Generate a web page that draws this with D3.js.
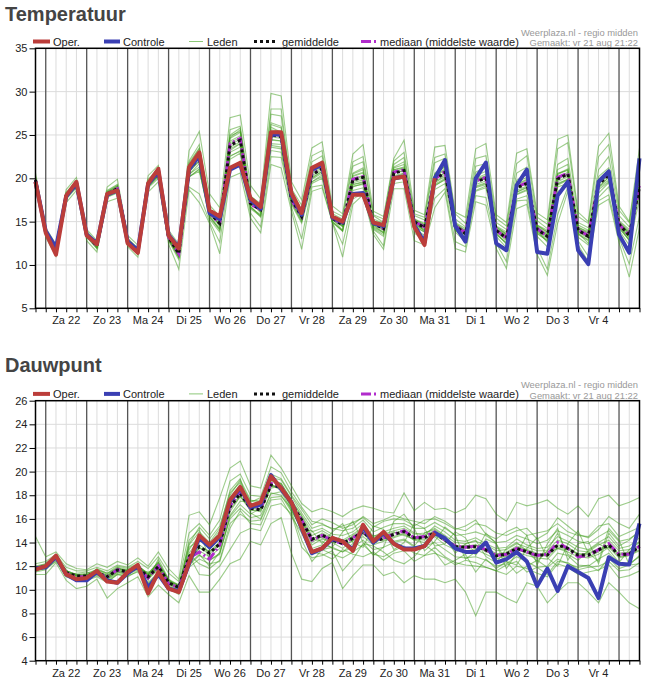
<!DOCTYPE html>
<html>
<head>
<meta charset="utf-8">
<script src="https://cdn.jsdelivr.net/npm/d3@7"></script>
<style>
body { margin: 0; background: #fff; }
svg { display: block; }
text { font-family: "Liberation Sans", Arial, sans-serif; }
</style>
</head>
<body>
<svg id="chart" width="650" height="685"></svg>
<script>
// data: 6-hourly runs starting vr 21 aug 18:00 UTC

let dayLabels = ["Za 22", "Zo 23", "Ma 24", "Di 25", "Wo 26", "Do 27", "Vr 28",
    "Za 29", "Zo 30", "Ma 31", "Di 1", "Wo 2", "Do 3", "Vr 4"]

let tempTicks = [5, 10, 15, 20, 25, 30, 35]
let dewTicks = [4, 6, 8, 10, 12, 14, 16, 18, 20, 22, 24, 26]

// temperatuur

let tempOper = [19.6, 13.7, 11.2, 18.0, 19.6, 13.4, 12.4, 18.2, 18.6, 12.5, 11.4, 19.4, 21.1,
    13.4, 11.9, 21.3, 23.0, 16.3, 15.6, 21.2, 21.8, 17.7, 16.7, 25.3, 25.3, 18.3, 16.0, 21.2,
    21.8, 15.6, 15.0, 18.1, 18.1, 14.9, 14.6, 20.0, 20.2, 14.4, 12.3, 20.0]

let tempControl = [19.6, 13.9, 12.0, 17.9, 19.4, 13.5, 12.5, 18.1, 18.6, 12.7, 11.7, 19.3, 20.8,
    13.5, 12.0, 21.0, 22.6, 16.0, 15.3, 21.0, 21.6, 17.5, 16.5, 25.0, 25.1, 18.1, 15.8, 21.0,
    21.6, 15.5, 14.9, 18.2, 18.3, 14.8, 14.5, 20.0, 20.2, 14.6, 12.6, 20.0, 22.1, 14.5, 12.7,
    20.0, 21.8, 12.5, 11.7, 19.2, 21.0, 11.5, 11.3, 18.0, 19.6, 11.7, 10.1, 19.6, 20.8, 13.5,
    11.4, 22.3]

let tempMean = [19.8, 13.8, 11.8, 18.0, 19.3, 13.5, 12.2, 18.2, 18.8, 12.8, 11.6, 19.4, 20.6,
    13.2, 11.3, 21.0, 22.4, 16.0, 14.8, 23.8, 24.4, 17.1, 16.4, 25.0, 24.8, 17.6, 15.6, 20.4,
    21.1, 15.4, 14.6, 19.8, 20.1, 14.8, 14.2, 20.6, 20.9, 15.0, 14.3, 19.8, 20.7, 14.5, 13.6,
    19.6, 20.0, 14.0, 13.1, 18.9, 19.4, 14.1, 13.3, 19.9, 20.5, 14.0, 13.3, 19.3, 20.4, 14.7,
    13.4, 19.0]

let tempMedian = [19.8, 13.8, 11.8, 18.0, 19.3, 13.5, 12.2, 18.2, 18.8, 12.8, 11.6, 19.4, 20.7,
    13.2, 11.3, 21.1, 22.6, 16.0, 14.8, 24.0, 24.6, 17.0, 16.4, 25.2, 24.9, 17.5, 15.6, 20.5,
    21.2, 15.4, 14.7, 19.9, 20.2, 14.8, 14.2, 20.7, 21.0, 15.0, 14.4, 19.9, 20.8, 14.5, 13.7,
    19.7, 20.1, 14.0, 13.1, 19.0, 19.5, 14.2, 13.3, 20.1, 20.6, 14.0, 13.4, 19.4, 20.5, 14.7,
    13.4, 19.1]

let tempMembers = [
    [20.6, 14.3, 12.4, 18.7, 20.1, 14.1, 12.8, 19.0, 19.9, 13.4, 12.3, 20.3, 21.5, 14.0, 12.4, 23.2, 25.4,
        18.2, 16.6, 27.0, 27.3, 19.2, 17.6, 29.8, 29.5, 19.6, 17.5, 23.5, 24.2, 16.8, 15.9, 22.8, 23.9,
        16.2, 15.6, 22.3, 24.4, 16.3, 15.8, 23.6, 23.8, 16.1, 15.5, 23.4, 24.0, 15.8, 14.9, 22.9, 23.4,
        16.0, 15.2, 24.5, 25.0, 16.1, 15.0, 23.7, 25.2, 16.8, 15.0, 23.5],
    [19.1, 13.2, 11.0, 17.2, 18.6, 12.8, 11.5, 17.3, 17.7, 12.1, 10.9, 18.4, 19.6, 12.4, 9.5, 18.7, 17.2,
        14.8, 11.3, 20.1, 20.6, 15.4, 13.7, 21.6, 21.2, 16.2, 11.8, 18.5, 18.9, 14.9, 10.9, 17.0, 18.1,
        13.5, 11.8, 18.8, 18.8, 12.8, 12.3, 16.6, 18.4, 11.9, 11.5, 17.3, 16.9, 11.9, 9.6, 16.5, 17.0,
        11.2, 8.8, 14.8, 18.5, 12.3, 10.4, 16.9, 17.6, 12.6, 8.6, 14.3],
    [20.2, 14.1, 12.2, 18.4, 19.7, 13.9, 12.5, 18.6, 19.3, 13.1, 11.9, 19.9, 21.1, 13.6, 11.8, 22.0, 23.9,
        16.9, 15.6, 25.6, 26.0, 17.9, 17.1, 27.4, 27.2, 18.6, 16.4, 21.9, 22.6, 15.9, 15.3, 21.4, 21.9,
        15.7, 14.9, 21.6, 22.4, 15.7, 15.2, 21.8, 22.3, 15.3, 14.4, 21.4, 21.7, 14.9, 14.1, 20.6, 21.3,
        15.1, 14.2, 21.6, 22.3, 14.9, 14.3, 21.0, 22.5, 15.7, 14.4, 21.3],
    [19.5, 13.5, 11.4, 17.6, 18.9, 13.2, 11.9, 17.8, 18.3, 12.5, 11.2, 18.9, 20.0, 12.8, 10.6, 20.1, 21.1,
        15.3, 13.8, 22.2, 22.9, 16.5, 15.6, 23.2, 23.0, 17.0, 14.8, 19.4, 20.0, 15.0, 13.9, 18.6, 18.9,
        14.1, 13.3, 19.4, 19.6, 14.2, 13.4, 18.7, 19.4, 13.8, 12.7, 18.5, 18.9, 13.3, 12.0, 17.6, 18.0,
        13.3, 12.1, 18.5, 19.1, 13.2, 12.3, 17.8, 19.0, 14.0, 12.3, 17.6],
    [19.9, 13.9, 11.9, 18.2, 19.5, 13.6, 12.3, 18.4, 19.1, 12.9, 11.6, 19.6, 20.9, 13.3, 11.0, 21.8, 23.5,
        16.3, 14.4, 24.9, 25.4, 17.3, 16.0, 26.4, 26.0, 17.8, 15.3, 21.2, 22.0, 15.3, 14.0, 20.6, 21.2,
        14.6, 13.7, 21.3, 21.9, 14.9, 13.9, 20.4, 21.4, 14.2, 12.8, 20.7, 21.3, 13.7, 12.4, 19.8, 20.4,
        14.0, 12.6, 21.0, 21.6, 13.7, 12.5, 20.2, 21.2, 14.5, 12.8, 20.2],
    [19.7, 13.8, 11.9, 17.9, 19.2, 13.5, 12.3, 18.1, 18.6, 12.8, 11.7, 19.2, 20.4, 13.3, 11.9, 20.5, 21.3,
        16.2, 15.5, 22.6, 23.1, 17.3, 16.9, 23.8, 23.6, 17.5, 16.2, 19.6, 20.4, 15.6, 15.1, 19.0, 19.4,
        15.1, 14.7, 19.8, 20.1, 15.2, 14.7, 19.1, 19.9, 14.9, 14.2, 18.6, 19.1, 14.5, 13.8, 18.1, 18.6,
        14.6, 14.0, 19.0, 19.4, 14.6, 14.0, 18.3, 19.5, 15.1, 14.1, 18.2],
    [20.0, 13.6, 11.6, 18.1, 19.4, 13.4, 12.0, 18.5, 19.2, 12.6, 11.4, 19.5, 20.7, 13.0, 10.9, 21.5, 23.0,
        15.7, 14.2, 24.6, 25.3, 16.8, 15.5, 25.9, 25.3, 17.2, 15.5, 21.0, 21.7, 15.5, 14.5, 20.3, 20.7,
        14.4, 13.8, 21.0, 21.2, 15.3, 14.6, 20.6, 21.5, 14.8, 13.9, 19.9, 20.3, 14.4, 13.6, 19.2, 19.8,
        14.6, 13.8, 20.6, 20.9, 14.2, 13.7, 19.6, 20.8, 14.9, 13.7, 19.6],
    [19.6, 14.0, 12.0, 17.8, 19.0, 13.7, 12.6, 18.0, 18.5, 13.0, 11.8, 19.0, 20.3, 13.7, 11.6, 20.2, 20.8,
        15.9, 15.1, 23.2, 24.0, 17.6, 16.8, 24.5, 24.3, 17.9, 16.1, 20.0, 20.8, 15.2, 14.8, 19.3, 19.5,
        15.3, 14.8, 20.2, 20.3, 14.6, 14.1, 19.5, 20.2, 14.4, 13.7, 19.0, 19.4, 14.2, 13.5, 18.4, 19.0,
        14.4, 13.6, 19.3, 19.9, 14.3, 13.9, 19.0, 20.1, 14.8, 13.6, 18.6],
    [19.4, 13.7, 11.7, 18.3, 19.5, 13.3, 12.1, 18.3, 19.0, 12.9, 11.5, 19.7, 20.8, 13.1, 11.4, 19.0, 18.2,
        15.0, 12.6, 21.0, 21.7, 16.0, 14.4, 22.5, 22.4, 16.7, 13.0, 19.0, 19.2, 14.9, 12.4, 17.6, 18.3,
        13.9, 12.2, 20.0, 20.6, 13.7, 12.8, 17.7, 18.8, 12.7, 12.1, 18.0, 17.8, 12.5, 10.4, 17.4, 17.5,
        12.0, 9.5, 15.8, 19.0, 12.8, 11.0, 17.4, 18.1, 13.1, 10.1, 15.6],
    [19.9, 13.9, 11.9, 18.1, 19.3, 13.6, 12.2, 18.2, 18.9, 12.8, 11.6, 19.4, 20.6, 13.4, 11.5, 21.3, 22.9,
        16.5, 15.3, 25.0, 25.8, 18.0, 16.9, 28.0, 28.0, 18.8, 16.9, 22.6, 23.2, 16.2, 15.6, 21.9, 22.5,
        15.8, 15.3, 22.0, 23.0, 15.9, 15.5, 22.4, 22.8, 15.9, 14.8, 22.3, 22.6, 15.4, 14.5, 21.7, 22.6,
        15.5, 14.7, 23.4, 24.1, 15.6, 14.8, 22.5, 23.9, 16.3, 14.9, 22.4],
    [20.1, 13.9, 11.8, 17.7, 19.1, 13.5, 12.1, 17.9, 18.5, 12.7, 11.5, 19.1, 20.4, 12.9, 11.1, 20.8, 22.0,
        15.8, 14.7, 23.6, 24.2, 17.0, 16.6, 24.8, 24.6, 17.4, 15.9, 20.3, 21.0, 15.5, 14.7, 19.7, 20.0,
        14.9, 14.3, 20.7, 20.8, 14.8, 14.5, 20.0, 20.6, 14.5, 13.5, 19.6, 20.0, 14.0, 13.2, 19.0, 19.5,
        14.2, 13.4, 20.0, 20.5, 13.9, 13.3, 19.4, 20.6, 14.6, 13.2, 19.4],
    [19.8, 13.8, 11.8, 18.0, 19.3, 13.5, 12.4, 18.2, 18.8, 12.8, 11.7, 19.3, 20.5, 13.2, 11.3, 21.1, 22.6,
        16.1, 14.9, 24.1, 24.7, 17.2, 16.3, 25.3, 25.0, 17.6, 15.8, 20.7, 21.4, 15.4, 14.5, 20.0, 20.3,
        14.7, 14.2, 20.8, 21.1, 15.0, 14.3, 20.1, 21.0, 14.5, 13.7, 19.8, 20.2, 14.1, 13.2, 19.0, 19.6,
        14.2, 13.3, 20.0, 20.7, 14.0, 13.4, 19.4, 20.5, 14.8, 13.5, 19.2],
    [19.9, 13.7, 11.7, 18.1, 19.4, 13.4, 12.2, 18.3, 18.9, 12.7, 11.5, 19.5, 20.7, 13.1, 11.2, 21.2, 22.8,
        16.2, 14.6, 24.3, 24.9, 17.4, 16.1, 25.6, 25.4, 17.7, 15.4, 20.8, 21.5, 15.2, 14.4, 20.2, 20.6,
        14.6, 14.0, 21.0, 21.3, 14.8, 14.0, 20.2, 21.1, 14.3, 13.3, 20.0, 20.5, 13.8, 12.8, 19.3, 19.9,
        13.8, 13.0, 20.4, 21.0, 13.8, 13.1, 19.8, 20.9, 14.5, 13.1, 19.5],
    [19.7, 13.9, 11.9, 17.9, 19.2, 13.6, 12.3, 18.0, 18.7, 12.9, 11.7, 19.3, 20.5, 13.3, 11.5, 20.7, 22.0,
        16.1, 15.0, 23.4, 24.0, 17.0, 16.5, 24.4, 24.3, 17.5, 15.8, 20.1, 20.8, 15.5, 14.8, 19.5, 19.8,
        14.9, 14.4, 20.3, 20.6, 15.1, 14.5, 19.5, 20.4, 14.7, 13.8, 19.3, 19.7, 14.2, 13.4, 18.6, 19.1,
        14.3, 13.5, 19.6, 20.2, 14.2, 13.5, 19.0, 20.1, 14.9, 13.7, 18.8],
    [19.8, 13.6, 11.5, 18.2, 19.6, 13.3, 11.9, 18.4, 19.1, 12.6, 11.3, 19.6, 20.9, 12.9, 10.8, 21.6, 23.4,
        15.6, 14.0, 24.7, 25.6, 16.7, 15.7, 26.2, 25.8, 17.3, 15.1, 21.1, 21.9, 14.9, 13.9, 20.5, 21.0,
        14.2, 13.5, 21.2, 21.6, 14.6, 13.8, 20.5, 21.3, 14.0, 13.0, 20.3, 20.8, 13.6, 12.5, 19.6, 20.1,
        13.7, 12.8, 20.5, 21.1, 13.5, 12.8, 19.9, 21.0, 14.3, 12.9, 19.8],
    [20.0, 14.0, 12.1, 17.8, 19.1, 13.7, 12.4, 17.9, 18.6, 13.0, 11.9, 19.2, 20.3, 13.5, 11.7, 20.4, 21.7,
        16.4, 15.2, 23.0, 23.6, 17.5, 17.0, 24.0, 23.9, 17.8, 16.3, 19.9, 20.6, 15.7, 15.0, 19.3, 19.6,
        15.0, 14.6, 20.0, 20.4, 15.3, 14.8, 19.3, 20.0, 14.8, 14.0, 19.1, 19.5, 14.4, 13.6, 18.4, 18.9,
        14.5, 13.8, 19.4, 19.9, 14.4, 13.7, 18.9, 19.8, 15.0, 13.9, 18.5],
    [19.6, 13.8, 11.7, 18.0, 19.3, 13.4, 12.1, 18.2, 18.8, 12.8, 11.5, 19.4, 20.6, 13.2, 11.2, 21.0, 22.4,
        15.9, 14.6, 23.9, 24.5, 17.1, 16.2, 25.1, 24.8, 17.6, 15.5, 20.5, 21.2, 15.3, 14.5, 19.9, 20.2,
        14.7, 14.1, 20.6, 20.9, 14.9, 14.2, 19.8, 20.7, 14.4, 13.5, 19.6, 20.0, 13.9, 13.0, 18.9, 19.4,
        14.0, 13.2, 19.9, 20.5, 13.9, 13.2, 19.3, 20.3, 14.6, 13.3, 19.0],
    [19.5, 13.6, 11.6, 17.8, 19.0, 13.3, 12.0, 17.9, 18.4, 12.6, 11.4, 19.0, 20.2, 13.0, 11.0, 20.2, 21.0,
        15.5, 14.1, 22.5, 23.2, 16.6, 15.8, 23.6, 23.4, 17.2, 15.0, 19.6, 20.2, 15.0, 14.0, 19.1, 19.3,
        14.3, 13.7, 19.8, 20.0, 14.4, 13.8, 19.2, 19.8, 14.0, 13.0, 18.9, 19.3, 13.5, 12.6, 18.2, 18.7,
        13.6, 12.8, 19.2, 19.8, 13.6, 12.9, 18.7, 19.6, 14.2, 12.9, 18.3]
]

// dauwpunt

let dewOper = [11.7, 12.0, 12.9, 11.3, 10.9, 11.0, 11.6, 10.7, 10.6, 11.5, 12.1, 9.7, 11.5,
    10.1, 9.8, 12.3, 14.6, 13.8, 14.6, 17.6, 18.7, 17.1, 17.4, 19.6, 18.6, 17.4, 15.3, 13.2,
    13.5, 14.4, 14.1, 13.3, 15.5, 14.1, 14.9, 13.9, 13.4, 13.4, 13.7, 14.8]

let dewControl = [11.8, 11.9, 12.8, 11.3, 10.8, 10.8, 11.5, 10.8, 10.6, 11.4, 12.0, 10.2, 11.3,
    10.1, 9.9, 12.2, 14.4, 13.6, 14.5, 17.5, 18.6, 17.0, 17.2, 19.7, 18.5, 17.4, 15.2, 13.1,
    13.5, 14.3, 14.1, 13.4, 15.3, 14.0, 14.8, 13.9, 13.5, 13.5, 13.7, 14.8, 14.35, 13.5, 13.2,
    13.2, 14.0, 12.3, 12.6, 13.2, 12.4, 10.3, 11.8, 9.9, 12.0, 11.5, 11.0, 9.3, 12.75, 12.2,
    12.15, 15.6]

let dewMean = [11.8, 12.0, 12.75, 11.45, 11.17, 11.17, 11.45, 11.1, 11.67, 11.53, 11.9, 11.1,
    11.96, 10.6, 10.2, 12.8, 13.65, 13.1, 13.9, 17.0, 18.16, 16.9, 16.75, 18.87, 18.67, 17.3,
    15.9, 14.27, 14.63, 14.2, 13.93, 14.35, 14.92, 14.07, 14.35, 14.69, 14.92, 14.41, 14.41,
    14.83, 14.2, 13.65, 13.59, 13.65, 13.37, 12.86, 13.03, 13.5, 13.22, 12.94, 12.94, 13.79,
    13.5, 12.94, 12.94, 13.37, 13.79, 12.94, 13.03, 13.65]

let dewMedian = [11.8, 12.0, 12.7, 11.4, 11.1, 11.1, 11.4, 11.1, 11.7, 11.5, 11.9, 11.0, 12.0,
    10.5, 10.2, 12.7, 13.2, 12.6, 13.8, 17.1, 18.3, 16.9, 16.9, 19.0, 18.7, 17.3, 15.9, 14.2,
    14.6, 14.2, 13.9, 14.4, 14.9, 14.1, 14.4, 14.7, 15.0, 14.4, 14.5, 14.9, 14.2, 13.7, 13.6,
    13.7, 13.4, 12.9, 13.0, 13.5, 13.2, 12.9, 13.0, 14.0, 13.5, 12.8, 12.9, 13.4, 13.9, 13.0,
    13.0, 13.7]

let dewMembers = [
    [14.5, 12.8, 13.2, 12.2, 11.8, 11.7, 12.2, 11.9, 12.4, 12.1, 12.7, 12.0, 13.2, 11.8, 10.9, 16.3, 16.6,
        15.5, 17.8, 20.3, 20.9, 18.8, 18.6, 21.4, 20.3, 18.8, 17.3, 16.6, 16.9, 16.6, 16.2, 16.8, 17.1,
        16.9, 16.6, 16.5, 18.2, 16.7, 17.4, 16.8, 16.9, 16.5, 16.9, 18.0, 17.7, 16.4, 15.8, 17.4, 17.1,
        17.3, 17.6, 16.9, 16.4, 17.1, 16.2, 17.7, 18.0, 17.1, 17.4, 17.8],
    [11.3, 11.3, 12.3, 10.8, 10.1, 10.3, 10.9, 9.3, 10.1, 10.6, 11.1, 9.4, 10.4, 9.6, 8.9, 11.2, 9.8,
        9.8, 10.9, 12.2, 12.6, 14.1, 13.8, 15.6, 16.1, 13.1, 10.9, 10.7, 11.8, 12.3, 10.1, 11.2, 12.1,
        12.1, 11.2, 11.5, 10.6, 11.2, 10.9, 10.9, 10.6, 10.9, 9.8, 7.8, 9.8, 9.8, 9.3, 8.9, 10.6,
        10.3, 8.9, 9.8, 10.6, 10.6, 9.8, 8.9, 10.6, 9.8, 8.9, 8.4],
    [12.2, 12.4, 13.0, 11.9, 11.6, 11.6, 11.9, 11.6, 12.1, 11.9, 12.4, 11.8, 12.8, 11.4, 10.7, 14.8, 15.6,
        14.6, 15.9, 19.2, 19.8, 18.0, 17.9, 20.4, 19.9, 18.3, 17.0, 15.8, 15.6, 15.1, 15.4, 15.7, 16.1,
        15.3, 15.8, 16.0, 15.9, 15.4, 15.9, 16.0, 15.6, 15.1, 15.4, 15.9, 14.7, 14.3, 14.9, 15.3, 14.6,
        14.8, 15.0, 15.6, 14.9, 14.6, 14.5, 15.4, 15.6, 14.5, 14.9, 15.3],
    [11.5, 11.7, 12.5, 11.1, 10.8, 10.8, 11.1, 10.6, 11.3, 11.2, 11.5, 10.5, 11.4, 10.1, 9.6, 11.9, 12.6,
        12.2, 12.4, 15.2, 16.7, 15.6, 15.5, 17.6, 17.7, 16.2, 14.8, 13.0, 13.4, 13.0, 12.7, 13.2, 13.8,
        13.0, 12.8, 13.3, 13.7, 13.1, 12.9, 13.6, 12.8, 12.3, 12.1, 12.0, 11.9, 11.6, 11.3, 12.0, 11.8,
        11.4, 11.1, 12.2, 11.9, 11.3, 11.5, 11.7, 12.1, 11.0, 11.2, 11.6],
    [11.9, 12.1, 12.8, 11.6, 11.3, 11.2, 11.6, 11.2, 11.8, 11.6, 12.0, 11.3, 12.2, 10.8, 10.3, 13.1, 14.3,
        13.6, 14.6, 17.8, 18.9, 17.3, 17.2, 19.3, 19.0, 17.6, 16.3, 14.9, 15.2, 14.7, 14.6, 14.9, 15.6,
        14.5, 14.9, 15.2, 15.4, 14.8, 14.6, 15.4, 14.9, 14.2, 14.1, 14.4, 13.9, 13.5, 13.6, 14.3, 13.8,
        13.5, 13.6, 14.5, 14.1, 13.6, 13.4, 14.0, 14.5, 13.5, 13.7, 14.4],
    [11.8, 11.9, 12.7, 11.4, 11.1, 11.3, 11.4, 11.0, 11.6, 11.5, 11.8, 11.0, 11.8, 10.5, 10.1, 12.6, 13.3,
        12.8, 13.5, 16.6, 17.9, 16.8, 16.6, 18.6, 18.8, 17.1, 15.6, 13.8, 14.3, 14.0, 13.5, 14.2, 14.5,
        13.8, 14.1, 14.4, 14.7, 14.2, 14.0, 14.5, 13.8, 13.4, 13.3, 13.4, 13.0, 12.6, 12.9, 13.2, 12.9,
        12.7, 12.6, 13.5, 13.2, 12.8, 12.7, 13.0, 13.6, 12.7, 12.9, 13.3],
    [12.0, 12.2, 12.9, 11.7, 10.9, 11.0, 11.8, 11.4, 12.0, 11.8, 12.2, 10.8, 12.6, 10.9, 10.0, 13.8, 14.9,
        14.0, 15.2, 18.4, 19.4, 16.5, 16.0, 18.2, 18.0, 16.6, 14.2, 12.4, 13.4, 13.6, 14.9, 15.8, 14.0,
        12.9, 13.6, 15.8, 16.4, 15.2, 13.3, 14.1, 15.3, 14.6, 12.6, 13.2, 14.8, 13.9, 12.4, 12.1, 13.5,
        14.4, 12.7, 12.0, 13.9, 15.0, 13.1, 12.4, 15.2, 14.2, 12.1, 12.9],
    [11.6, 12.0, 12.6, 11.3, 11.4, 11.5, 11.3, 10.9, 11.5, 11.3, 11.7, 11.5, 11.7, 10.3, 9.8, 12.1, 12.9,
        12.5, 13.1, 16.2, 17.2, 16.4, 16.9, 18.9, 18.4, 17.0, 15.9, 14.3, 14.1, 13.5, 13.2, 13.9, 14.7,
        14.6, 14.5, 14.1, 14.3, 13.7, 14.8, 15.1, 14.5, 13.1, 13.9, 14.2, 12.8, 12.3, 13.5, 14.0, 13.3,
        12.4, 13.3, 14.8, 13.0, 12.5, 13.3, 13.9, 13.4, 12.3, 13.4, 14.1],
    [11.7, 11.8, 12.4, 11.5, 11.2, 11.1, 11.5, 11.1, 11.7, 11.7, 12.1, 11.2, 12.1, 10.7, 10.4, 12.9, 11.3,
        11.2, 12.0, 13.4, 14.8, 15.2, 15.0, 17.1, 17.3, 16.4, 13.6, 12.7, 12.9, 13.3, 11.6, 12.6, 13.9,
        13.7, 13.2, 12.5, 12.2, 12.8, 13.8, 13.2, 12.1, 12.5, 13.0, 11.5, 12.6, 11.8, 12.4, 11.4, 12.0,
        12.5, 11.9, 12.6, 12.2, 11.9, 12.1, 11.6, 12.7, 11.8, 12.1, 12.2],
    [11.9, 12.1, 12.8, 11.5, 11.2, 11.3, 11.5, 11.2, 11.8, 11.6, 12.0, 11.2, 12.1, 10.7, 10.3, 13.4, 14.6,
        13.8, 15.0, 18.0, 19.3, 17.6, 17.4, 19.8, 19.4, 18.0, 16.8, 15.5, 16.0, 15.7, 15.2, 15.5, 16.2,
        15.6, 15.9, 16.3, 16.0, 15.8, 15.6, 16.2, 15.8, 15.2, 15.0, 15.6, 15.4, 14.8, 14.6, 15.0, 15.2,
        14.3, 14.8, 16.1, 15.4, 14.7, 14.4, 15.1, 16.2, 15.6, 15.2, 16.4],
    [11.7, 12.0, 12.7, 11.4, 11.0, 11.1, 11.4, 10.9, 11.5, 11.4, 11.9, 11.0, 11.9, 10.5, 10.0, 12.4, 13.6,
        13.0, 14.0, 17.0, 18.0, 16.9, 16.9, 18.8, 18.7, 17.3, 15.8, 14.0, 14.5, 14.2, 13.9, 14.1, 14.8,
        14.0, 14.3, 14.8, 15.0, 14.4, 14.3, 14.8, 14.3, 13.6, 13.7, 13.8, 13.4, 12.9, 13.1, 13.6, 13.3,
        13.0, 13.0, 13.8, 13.6, 12.9, 13.0, 13.4, 13.8, 13.0, 13.1, 13.7],
    [11.6, 11.8, 12.6, 11.2, 10.9, 10.9, 11.2, 10.7, 11.3, 11.1, 11.6, 10.6, 11.5, 10.2, 9.7, 12.2, 13.0,
        12.0, 13.2, 16.0, 16.9, 16.1, 16.3, 18.1, 18.3, 16.7, 15.2, 13.5, 13.8, 13.6, 13.2, 13.6, 14.2,
        13.4, 13.6, 14.0, 14.2, 13.6, 13.7, 14.0, 13.4, 12.8, 12.7, 12.8, 12.5, 12.0, 12.2, 12.8, 12.4,
        11.9, 12.0, 13.1, 12.9, 12.1, 12.0, 12.6, 13.1, 12.2, 12.2, 12.8],
    [11.9, 12.1, 12.9, 11.6, 11.3, 11.4, 11.7, 11.3, 11.9, 11.7, 12.0, 11.4, 12.3, 10.9, 10.4, 13.6, 14.2,
        13.5, 14.4, 17.4, 18.5, 17.2, 17.0, 19.2, 19.0, 17.6, 16.2, 14.6, 15.0, 14.5, 14.2, 14.7, 15.3,
        14.4, 14.7, 15.0, 15.2, 14.7, 14.8, 15.2, 14.6, 14.0, 13.9, 14.1, 13.8, 13.3, 13.4, 13.9, 13.6,
        13.3, 13.3, 14.2, 13.9, 13.3, 13.2, 13.8, 14.2, 13.3, 13.4, 14.0],
    [11.7, 11.9, 12.7, 11.5, 11.2, 11.1, 11.5, 11.1, 11.6, 11.5, 11.9, 11.1, 11.9, 10.6, 10.2, 12.8, 13.8,
        13.2, 14.1, 17.2, 18.4, 17.0, 16.7, 18.9, 18.6, 17.2, 15.8, 14.2, 14.8, 14.4, 13.8, 14.6, 15.1,
        14.2, 14.2, 14.5, 14.8, 14.2, 14.6, 15.0, 14.4, 13.8, 13.5, 13.8, 13.2, 13.0, 13.2, 13.7, 13.4,
        13.1, 12.8, 13.6, 13.6, 13.0, 13.1, 13.5, 13.6, 13.1, 13.2, 13.8],
    [11.6, 12.1, 12.8, 11.3, 11.0, 11.2, 11.6, 10.9, 11.9, 11.5, 11.8, 11.3, 12.3, 10.6, 10.1, 14.2, 15.1,
        12.5, 13.0, 16.3, 17.5, 17.4, 17.8, 19.6, 18.9, 16.8, 15.1, 15.0, 13.9, 14.9, 15.6, 14.0, 13.6,
        15.4, 15.1, 13.4, 14.0, 15.6, 15.2, 13.7, 13.9, 14.9, 14.4, 12.9, 14.3, 13.9, 11.8, 13.1, 14.6,
        12.1, 13.9, 15.2, 12.5, 13.9, 14.1, 12.2, 14.8, 13.7, 14.2, 15.0],
    [11.9, 12.0, 12.8, 11.4, 11.2, 11.2, 11.5, 11.2, 11.7, 11.6, 11.9, 11.1, 12.0, 10.6, 10.2, 12.6, 13.5,
        13.3, 13.7, 16.8, 17.9, 16.7, 16.8, 18.7, 18.8, 17.4, 16.0, 14.4, 14.4, 14.0, 14.1, 14.5, 14.8,
        13.9, 14.5, 14.9, 14.6, 14.3, 14.2, 14.6, 14.1, 13.5, 13.8, 13.5, 13.5, 13.1, 12.8, 13.4, 13.1,
        12.8, 13.2, 13.5, 13.4, 13.1, 12.8, 13.2, 13.8, 12.8, 12.9, 13.4],
    [11.8, 11.9, 12.6, 11.4, 11.0, 11.0, 11.3, 10.8, 11.4, 11.4, 11.8, 10.9, 11.7, 10.4, 9.9, 13.0, 12.2,
        11.8, 12.5, 15.6, 16.4, 15.8, 15.9, 17.8, 17.9, 16.9, 14.9, 13.2, 13.0, 12.6, 13.4, 13.0, 12.8,
        13.2, 12.5, 13.1, 13.3, 12.4, 12.9, 13.1, 12.7, 12.1, 12.5, 12.3, 11.9, 11.6, 12.1, 12.4, 11.5,
        11.9, 11.3, 12.4, 12.3, 11.7, 11.9, 12.0, 12.4, 11.6, 11.7, 12.3],
    [11.9, 12.2, 12.9, 11.6, 11.3, 11.3, 11.7, 11.4, 11.8, 11.6, 12.1, 11.3, 12.4, 10.8, 10.4, 13.9, 15.3,
        14.3, 15.4, 18.2, 19.1, 17.5, 17.6, 19.5, 19.3, 17.9, 16.5, 15.2, 15.5, 15.2, 15.0, 15.2, 15.9,
        14.9, 15.3, 15.6, 15.6, 15.2, 15.2, 15.7, 15.2, 14.6, 14.7, 14.9, 14.6, 14.0, 14.1, 14.6, 14.3,
        13.9, 14.2, 15.0, 14.6, 14.1, 13.9, 14.5, 15.0, 14.1, 14.3, 14.9]
]

// layout

let start = Date.UTC(2020, 7, 21, 18)
let times = d3.range(tempMean.length).map(i => new Date(start + i * 6 * 3600 * 1000))

let plotLeft = 35.5
let plotRight = 639.5
let plotTop = 48.3
let plotBottom = 308.3

let operColor = "#bb3d3a"
let controlColor = "#3a3fb3"
let memberColor = "#3c9c18"
let medianColor = "#b12ccc"

let x = d3.scaleUtc()
    .domain([times[0], times[times.length - 1]])
    .range([plotLeft, plotRight])

// legend

function renderLegend(g) {
    let y = 41.5
    let items = [
        {label: "Oper.", x0: 33, x1: 50, tx: 53, color: operColor, width: 4, dash: null},
        {label: "Controle", x0: 104, x1: 120, tx: 123, color: controlColor, width: 4, dash: null},
        {label: "Leden", x0: 189, x1: 203, tx: 207, color: "#8cc878", width: 1, dash: null},
        {label: "gemiddelde", x0: 254, x1: 277, tx: 282, color: "#111", width: 3, dash: "3,3"},
        {label: "mediaan (middelste waarde)", x0: 361, x1: 377, tx: 380, color: medianColor, width: 3, dash: "10,3,2,3"},
    ]
    let item = g.selectAll("g.legend")
        .data(items)
        .join("g")
        .classed("legend", true)
    item.append("line")
        .attr("x1", d => d.x0)
        .attr("x2", d => d.x1)
        .attr("y1", y)
        .attr("y2", y)
        .attr("stroke", d => d.color)
        .attr("stroke-width", d => d.width)
        .attr("stroke-dasharray", d => d.dash)
    item.append("text")
        .attr("x", d => d.tx)
        .attr("y", y + 4)
        .attr("font-size", "11px")
        .attr("fill", "#222")
        .text(d => d.label)

    // source note, top right
    g.append("text")
        .attr("x", 638)
        .attr("y", 36)
        .attr("text-anchor", "end")
        .attr("font-size", "9.4px")
        .attr("fill", "#999")
        .text("Weerplaza.nl - regio midden")
    g.append("text")
        .attr("x", 638)
        .attr("y", 46.2)
        .attr("text-anchor", "end")
        .attr("font-size", "9.4px")
        .attr("fill", "#999")
        .text("Gemaakt: vr 21 aug 21:22")
}

// panel

function renderPanel(svg, panel) {
    let g = svg.append("g").attr("transform", `translate(0,${panel.offset})`)
    let y = d3.scaleLinear()
        .domain([panel.ticks[0], panel.ticks[panel.ticks.length - 1]])
        .range([plotBottom, plotTop])

    g.append("text")
        .attr("x", 5)
        .attr("y", panel.titleY)
        .attr("font-family", "Roboto, sans-serif")
        .attr("font-weight", "bold")
        .attr("font-size", "20px")
        .attr("fill", "#444")
        .text(panel.title)

    renderLegend(g)

    // grid
    let sixHours = d3.utcHour.every(6).range(times[0], new Date(+times[times.length - 1] + 1))
    let midnights = d3.utcDay.range(times[0], times[times.length - 1])

    g.append("g")
        .selectAll("line")
        .data(panel.ticks)
        .join("line")
        .attr("x1", plotLeft)
        .attr("x2", plotRight)
        .attr("y1", d => y(d))
        .attr("y2", d => y(d))
        .attr("stroke", "#dcdcdc")
        .attr("stroke-width", 1)
    g.append("g")
        .selectAll("line")
        .data(sixHours.filter(d => d.getUTCHours() !== 0))
        .join("line")
        .attr("x1", d => x(d))
        .attr("x2", d => x(d))
        .attr("y1", plotTop)
        .attr("y2", plotBottom)
        .attr("stroke", "#dcdcdc")
        .attr("stroke-width", 1)
    g.append("g")
        .selectAll("line")
        .data(midnights)
        .join("line")
        .attr("x1", d => x(d))
        .attr("x2", d => x(d))
        .attr("y1", plotTop)
        .attr("y2", plotBottom)
        .attr("stroke", "#555")
        .attr("stroke-width", 1.3)

    // series
    let line = d3.line()
        .x((d, i) => x(times[i]))
        .y(d => y(d))

    g.append("g")
        .selectAll("path")
        .data(panel.members)
        .join("path")
        .attr("d", line)
        .attr("fill", "none")
        .attr("stroke", memberColor)
        .attr("stroke-opacity", 0.5)
        .attr("stroke-width", 1.1)

    g.append("path")
        .attr("d", line(panel.median))
        .attr("fill", "none")
        .attr("stroke", medianColor)
        .attr("stroke-width", 3)
        .attr("stroke-dasharray", "10,3,2,3")
    g.append("path")
        .attr("d", line(panel.mean))
        .attr("fill", "none")
        .attr("stroke", "#111")
        .attr("stroke-width", 3)
        .attr("stroke-dasharray", "3,3")
    g.append("path")
        .attr("d", line(panel.control))
        .attr("fill", "none")
        .attr("stroke", controlColor)
        .attr("stroke-width", 4)
        .attr("stroke-linejoin", "round")
    g.append("path")
        .attr("d", line(panel.oper))
        .attr("fill", "none")
        .attr("stroke", operColor)
        .attr("stroke-width", 4)
        .attr("stroke-linejoin", "round")

    // axes
    let yAxis = g.append("g")
        .attr("transform", `translate(${plotLeft},0)`)
        .call(d3.axisLeft(y).tickValues(panel.ticks).tickSize(6).tickPadding(2).tickSizeOuter(0))
    yAxis.select(".domain").remove()
    yAxis.selectAll("text")
        .attr("font-family", "'Liberation Sans', Arial, sans-serif")
        .attr("font-size", "11px")
        .attr("fill", "#222")

    let xAxis = g.append("g")
        .attr("transform", `translate(0,${plotBottom})`)
        .call(d3.axisBottom(x).tickValues(sixHours).tickSize(4).tickFormat("").tickSizeOuter(0))
    xAxis.select(".domain").remove()

    let noons = midnights.slice(0, dayLabels.length).map(d => new Date(+d + 12 * 3600 * 1000))
    g.append("g")
        .selectAll("text")
        .data(noons)
        .join("text")
        .attr("x", d => x(d))
        .attr("y", plotBottom + 16)
        .attr("text-anchor", "middle")
        .attr("font-size", "11px")
        .attr("fill", "#222")
        .text((d, i) => dayLabels[i])

    g.append("rect")
        .attr("x", plotLeft)
        .attr("y", plotTop)
        .attr("width", plotRight - plotLeft)
        .attr("height", plotBottom - plotTop)
        .attr("fill", "none")
        .attr("stroke", "#000")
        .attr("stroke-width", 1.5)
}

let svg = d3.select("#chart")

renderPanel(svg, {
    title: "Temperatuur",
    titleY: 21,
    offset: 0,
    ticks: tempTicks,
    members: tempMembers,
    median: tempMedian,
    mean: tempMean,
    control: tempControl,
    oper: tempOper,
})

renderPanel(svg, {
    title: "Dauwpunt",
    titleY: 19.5,
    offset: 352.4,
    ticks: dewTicks,
    members: dewMembers,
    median: dewMedian,
    mean: dewMean,
    control: dewControl,
    oper: dewOper,
})
</script>
</body>
</html>
